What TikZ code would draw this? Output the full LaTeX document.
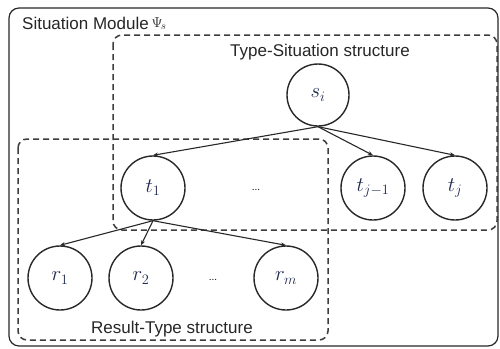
\documentclass[tikz,border=0pt]{standalone}
\usepackage{fontspec}
\setmainfont{Liberation Sans}
\usetikzlibrary{arrows.meta}
\definecolor{mathc}{RGB}{30,40,80}
\definecolor{linec}{RGB}{40,40,40}
\begin{document}
\begin{tikzpicture}[x=1pt,y=-1pt,
  circ/.style={circle,draw=linec,line width=1.4pt,minimum size=64pt,inner sep=0pt,
    font=\fontsize{20}{22}\selectfont,text=mathc},
  conn/.style={line width=1.1pt,draw=linec,-{Stealth[length=5pt,width=4pt]}},
  dbox/.style={draw=linec!90,line width=1.5pt,dash pattern=on 6pt off 4pt,rounded corners=9pt},
  lbl/.style={font=\fontsize{17}{20}\selectfont,text=black!85,inner sep=0pt},
  dots/.style={font=\fontsize{10}{11}\selectfont,inner sep=0pt}]
\useasboundingbox (0,0) rectangle (500,348);
% outer box
\draw[line width=1.2pt,draw=linec,rounded corners=10pt] (9,8) rectangle (498,346);
\node[lbl,anchor=base west] (title) at (22,29) {Situation Module\,{\fontsize{15}{17}\selectfont\raisebox{1.5pt}{$\Psi_{\!s}$}}};
% dashed boxes
\draw[dbox] (113,35) rectangle (497,230);
\draw[dbox] (18,139) rectangle (328,340);
\node[lbl,anchor=base] (tslabel) at (320,56) {Type-Situation structure};
\node[lbl,anchor=base] (rtlabel) at (172,333) {Result-Type structure};
% nodes
\node[circ,minimum size=62pt] (si) at (318,95) {$s_i$};
\node[circ] (t1) at (153,188) {$t_1$};
\node[dots] (tdots) at (256,190) {...};
\node[circ] (tj1) at (373,188) {$t_{j-1}$};
\node[circ] (tj) at (455,188) {$t_j$};
\node[circ] (r1) at (60,278) {$r_1$};
\node[circ] (r2) at (141,278) {$r_2$};
\node[dots] (rdots) at (213,280) {...};
\node[circ] (rm) at (286,278) {$r_m$};
% connectors
\draw[conn] (si.south) -- (t1.north);
\draw[conn] (si.south) -- (tj1.north);
\draw[conn] (si.south) -- (tj.north);
\draw[conn] (t1.south) -- (r1.north);
\draw[conn] (t1.south) -- (r2.north);
\draw[conn] (t1.south) -- (rm.north);
\end{tikzpicture}
\end{document}
